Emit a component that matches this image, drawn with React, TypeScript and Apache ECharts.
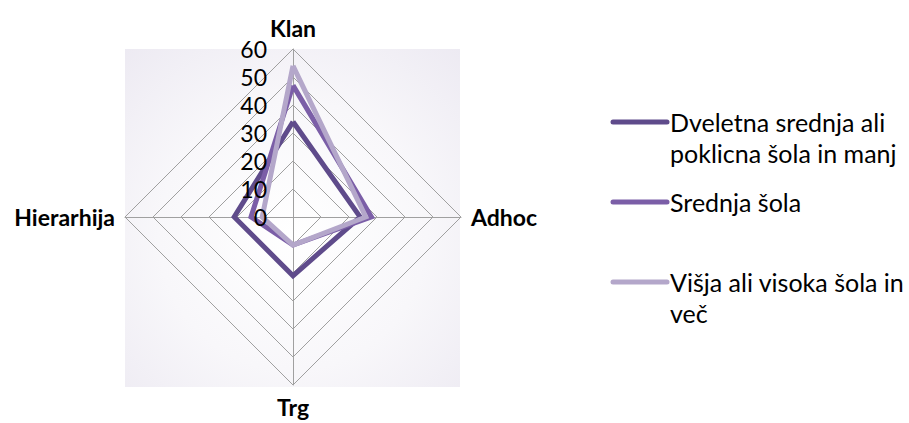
import React, { useEffect, useRef } from "react";
import * as echarts from "echarts";

// Radar axes, listed counter-clockwise from the top
const indicatorNames = ["Klan", "Hierarhija", "Trg", "Adhoc"];
const axisMax = 60;
const axisSplits = 6;

const seriesNames = [
  "Dveletna srednja ali\npoklicna šola in manj",
  "Srednja šola",
  "Višja ali visoka šola in\nveč",
];
const dveletnaValues = [34, 21, 21, 24];
const srednjaValues = [47, 15, 10, 28];
const visjaValues = [54, 11, 10, 26];

const seriesColors = ["#5f4b8b", "#7b5ea7", "#b4a7ca"];
const FONT = "Lato, 'Noto Sans', sans-serif";

export default function App() {
  const ref = useRef<HTMLDivElement>(null);

  useEffect(() => {
    document.body.style.margin = "0";
    const chart = echarts.init(ref.current!, null, { renderer: "svg" });
    const values = [dveletnaValues, srednjaValues, visjaValues];
    const cx = 293;
    const cy = 217;
    const r = 168;

    const legendItems = seriesNames.map((name, i) => {
      const y = 122 + i * 80;
      return {
        type: "group",
        children: [
          {
            type: "line",
            shape: { x1: 613, y1: y, x2: 667, y2: y },
            style: { stroke: seriesColors[i], lineWidth: 5, lineCap: "round" },
          },
          {
            type: "text",
            x: 670,
            y: y - 15.5,
            style: {
              text: name,
              font: `25px ${FONT}`,
              lineHeight: 31,
              fill: "#000",
              verticalAlign: "top",
              textAlign: "left",
            },
          },
        ],
      };
    });

    const indicators = (showLabel: (i: number) => boolean) =>
      indicatorNames.map((name, i) => ({
        name,
        min: 0,
        max: axisMax,
        axisLabel: { show: showLabel(i) },
      }));

    const baseRadar = {
      center: [cx, cy],
      radius: r,
      shape: "polygon",
      splitNumber: axisSplits,
      nameGap: 10,
    };

    chart.setOption({
      animation: false,
      backgroundColor: "#ffffff",
      graphic: [
        {
          type: "rect",
          z: -10,
          shape: { x: 125, y: 49, width: 335, height: 338 },
          style: {
            fill: new echarts.graphic.RadialGradient(0.5, 0.55, 0.8, [
              { offset: 0, color: "#ffffff" },
              { offset: 0.5, color: "#f8f7fa" },
              { offset: 1, color: "#ebe8f1" },
            ]),
          },
        },
        ...legendItems,
      ],
      radar: [
        {
          // grid, spokes and axis names
          ...baseRadar,
          axisName: {
            color: "#000",
            fontSize: 23,
            fontWeight: "bold",
            fontFamily: FONT,
          },
          axisLine: { lineStyle: { color: "#a0a0a0", width: 1 } },
          splitLine: { lineStyle: { color: "#a0a0a0", width: 1 } },
          splitArea: { show: false },
          axisTick: { show: false },
          axisLabel: { show: false },
          indicator: indicators(() => false),
        },
        {
          // value labels on the Klan axis, drawn above the lines
          ...baseRadar,
          z: 10,
          axisName: { show: false },
          axisLine: { show: false },
          splitLine: { show: false },
          splitArea: { show: false },
          axisTick: { show: false },
          axisLabel: {
            show: false,
            margin: 26,
            color: "#000",
            fontSize: 23,
            fontFamily: FONT,
          },
          indicator: indicators((i) => i === 0),
        },
      ],
      series: [
        {
          type: "radar",
          radarIndex: 0,
          symbol: "none",
          data: values.map((v, i) => ({
            name: seriesNames[i],
            value: v,
            lineStyle: { color: seriesColors[i], width: 5, join: "miter" },
            itemStyle: { color: seriesColors[i] },
          })),
        },
      ],
    });

    return () => chart.dispose();
  }, []);

  return <div ref={ref} style={{ width: 909, height: 423 }} />;
}
